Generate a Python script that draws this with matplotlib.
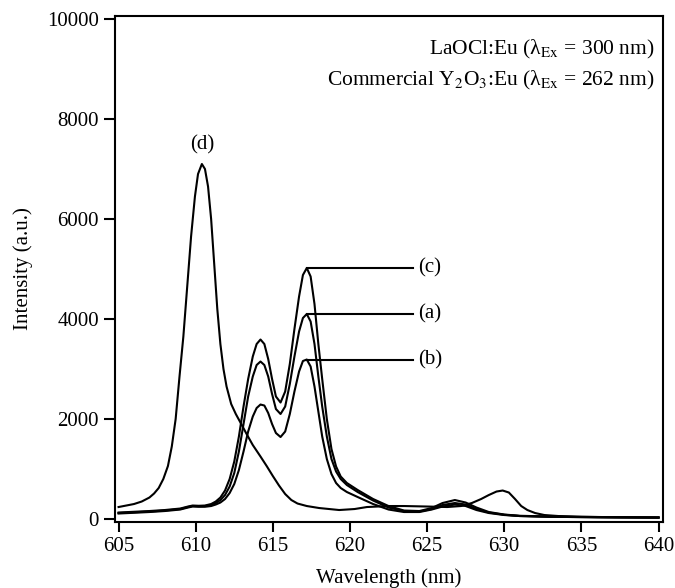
import matplotlib
matplotlib.use("Agg")
import matplotlib.pyplot as plt

plt.rcParams['font.family'] = ['Liberation Serif', 'DejaVu Serif']
plt.rcParams['mathtext.fontset'] = 'stix'

# (d) commercial Y2O3:Eu
wl_d = [605, 605.5, 606, 606.5, 607, 607.3, 607.6, 607.9, 608.2, 608.45, 608.7, 608.95,
        609.2, 609.45, 609.7, 609.95, 610.15, 610.4, 610.6, 610.8, 611.0, 611.2, 611.4,
        611.6, 611.8, 612.0, 612.3, 612.6, 612.9, 613.3, 613.7, 614.2, 614.6, 615.0,
        615.4, 615.8, 616.2, 616.6, 617.2, 618.0, 619.3, 620.3, 621.1, 622.5, 623.5,
        625, 626.3, 627.2, 627.9, 628.5, 629.0, 629.5, 629.9, 630.3, 630.7, 631.1,
        631.5, 632, 632.6, 633.5, 635, 637.5, 640]
int_d = [240, 270, 300, 350, 430, 510, 620, 800, 1060, 1450, 2000, 2850,
         3650, 4650, 5650, 6450, 6900, 7100, 7000, 6650, 6000, 5100, 4200,
         3500, 3000, 2650, 2300, 2100, 1930, 1700, 1480, 1250, 1060, 860,
         670, 500, 380, 310, 260, 220, 180, 200, 240, 260, 260,
         250, 240, 260, 320, 400, 480, 550, 570, 530, 400, 260,
         180, 120, 80, 60, 45, 35, 30]

# LaOCl:Eu samples (a), (b), (c) share the wavelength grid
wl_l = [605, 606, 607, 608, 609, 609.5, 609.8, 610.2, 610.6, 611, 611.3, 611.6, 611.9,
        612.2, 612.5, 612.8, 613.1, 613.4, 613.7, 613.95, 614.2, 614.45, 614.7, 614.95,
        615.2, 615.5, 615.8, 616.1, 616.4, 616.7, 616.95, 617.2, 617.45, 617.7, 617.95,
        618.2, 618.5, 618.8, 619.1, 619.4, 619.8, 620.5, 621.5, 622.5, 623.5, 624.5,
        625.3, 626, 626.8, 627.5, 628.2, 629, 630, 631, 633, 636, 640]
int_c = [130, 145, 160, 180, 210, 250, 270, 265, 270, 300, 350, 430, 570,
         800, 1150, 1650, 2250, 2800, 3250, 3500, 3590, 3500, 3200, 2800,
         2450, 2330, 2550, 3100, 3800, 4450, 4880, 5020, 4850, 4300, 3500,
         2800, 2000, 1400, 1050, 850, 720, 580, 400, 260, 170, 160,
         220, 320, 380, 330, 230, 140, 90, 65, 50, 40, 30]
int_a = [120, 135, 150, 170, 200, 240, 260, 255, 260, 280, 320, 380, 480,
         650, 920, 1350, 1900, 2450, 2850, 3080, 3150, 3080, 2850, 2500,
         2200, 2100, 2250, 2700, 3250, 3750, 4020, 4100, 3950, 3500, 2850,
         2250, 1650, 1200, 950, 800, 680, 540, 370, 230, 160, 150,
         200, 280, 320, 290, 200, 130, 85, 60, 45, 35, 30]
int_b = [110, 125, 140, 160, 190, 230, 250, 245, 245, 260, 290, 330, 400,
         520, 700, 980, 1350, 1750, 2050, 2220, 2290, 2270, 2120, 1900,
         1720, 1640, 1750, 2100, 2550, 2950, 3160, 3190, 3050, 2650, 2150,
         1650, 1200, 900, 720, 620, 540, 440, 300, 190, 140, 140,
         190, 250, 290, 260, 180, 120, 80, 60, 45, 35, 30]

labels = ['(c)', '(a)', '(b)']
peak_wl = [617.2, 617.2, 617.2]
peak_int = [5020, 4100, 3190]

fig = plt.figure(figsize=(6.75, 5.88), dpi=100)
ax = fig.add_axes([0.1704, 0.1122, 0.8118, 0.8606])

ax.plot(wl_d, int_d, color='black', lw=1.5)
for y in (int_a, int_b, int_c):
    ax.plot(wl_l, y, color='black', lw=1.5)

# leader lines to the labels
for lab, px, py in zip(labels, peak_wl, peak_int):
    ax.plot([px, 624.1], [py, py], color='black', lw=1.5)
    ax.text(624.4, py, lab, fontsize=15, va='center', ha='left')
ax.text(610.4, 7480, '(d)', fontsize=15, va='center', ha='center')

ax.text(0.985, 0.933, 'LaOCl:Eu (λ$_{\\rm Ex}$ = 300 nm)', transform=ax.transAxes,
        fontsize=15.5, ha='right', va='center')
ax.text(0.985, 0.873, 'Commercial Y$_2$O$_3$:Eu (λ$_{\\rm Ex}$ = 262 nm)',
        transform=ax.transAxes, fontsize=15.5, ha='right', va='center')

ax.set_xlim(604.77, 640.29)
ax.set_ylim(-60, 10060)
ax.set_xticks(range(605, 641, 5))
ax.set_yticks(range(0, 10001, 2000))
ax.tick_params(direction='out', length=7, width=1.5, labelsize=15)
ax.tick_params(axis='y', length=8)
for s in ax.spines.values():
    s.set_linewidth(1.5)

ax.set_xlabel('Wavelength (nm)', fontsize=15, labelpad=9)
ax.set_ylabel('Intensity (a.u.)', fontsize=15, labelpad=10)

fig.savefig('out.png', dpi=100)
